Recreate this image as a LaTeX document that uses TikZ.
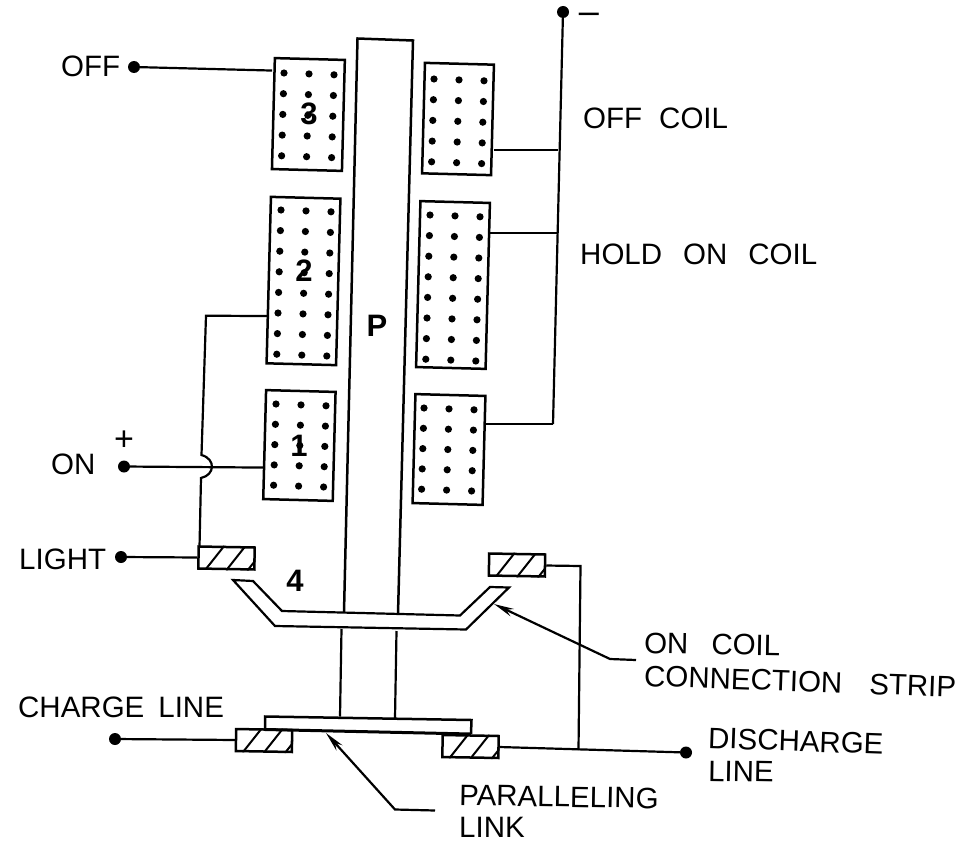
\documentclass[tikz,border=0pt]{standalone}
\usepackage{fontspec}
\setmainfont{Liberation Sans}
\usetikzlibrary{arrows.meta,calc}
\tikzset{
  wire/.style={draw=black,line width=2.2pt},
  coil/.style={draw=black,line width=2.5pt,fill=white,rectangle,inner sep=0pt,rotate=-1.5},
  contact/.style={draw=black,line width=2.5pt,rectangle,inner sep=0pt,minimum width=56pt,minimum height=22pt,rotate=-1},
  term/.style={circle,fill=black,inner sep=0pt,minimum size=12pt},
  lbl/.style={inner sep=0pt,anchor=west,font=\fontsize{29.5}{32}\selectfont},
  num/.style={inner sep=0pt,font=\fontsize{31}{33}\selectfont\bfseries},
  lead/.style={wire,-{Stealth[length=20pt,width=8pt]}}
}
\newcommand{\dotgrid}[4]{%
  \foreach \r in {1,...,#3}{\foreach \c in {0,1,2}{
    \fill (#1+25*\c-0.6*\r+0.6,#2+0.9*\c+#4*\r-#4) circle (3.6pt);}}}
\newcommand{\hatch}[1]{%
  \begin{scope}
    \clip (#1.north west)--(#1.north east)--(#1.south east)--(#1.south west)--cycle;
    \foreach \t in {0.14,0.50,0.86}{
      \draw[line width=2pt] ($(#1.south west)!\t!(#1.south east)$) -- ++(19,-24);}
  \end{scope}}
\begin{document}
\begin{tikzpicture}[x=1pt,y=-1pt]
\useasboundingbox (0,0) rectangle (971,843);
% plunger
\coordinate (pa) at (344,612); \coordinate (pb) at (357.5,38.5);
\coordinate (pc) at (413,40.5); \coordinate (pd) at (398,614);
\draw[line width=2.5pt,line join=miter] (pa)--(pb)--(pc)--(pd);
\coordinate (pe) at (341.5,629); \coordinate (pf) at (340,716.5);
\coordinate (pg) at (396.5,631); \coordinate (ph) at (395,718);
\draw[wire] (pe)--(pf) (pg)--(ph);
% coils
\node[coil,minimum width=70pt,minimum height=111pt] (c3) at (308.4,114.5) {};
\node[coil,minimum width=69.5pt,minimum height=166.5pt] (c2) at (303.5,281) {};
\node[coil,minimum width=69.5pt,minimum height=109pt] (c1) at (299.4,445.5) {};
\node[coil,minimum width=69pt,minimum height=110.5pt] (r3) at (458,119) {};
\node[coil,minimum width=69.5pt,minimum height=166pt] (r2) at (453,285) {};
\node[coil,minimum width=70pt,minimum height=109pt] (r1) at (449,449.5) {};
\dotgrid{284}{73}{5}{20.7}
\dotgrid{281}{210}{8}{20.6}
\dotgrid{276}{404}{5}{20.3}
\dotgrid{434}{79}{5}{20.7}
\dotgrid{430}{215}{8}{20.6}
\dotgrid{424}{408}{5}{20.3}
% numbers
\node[num] (n3) at (309,114) {3};
\node[num] (n2) at (304,271) {2};
\node[num] (n1) at (299,446) {1};
\node[num] (n4) at (295,581) {4};
\node[num] (np) at (377,326) {P};
% terminals
\node[term] (toff) at (134,67) {};
\node[term] (ton) at (124,466.5) {};
\node[term] (tlight) at (121,557) {};
\node[term] (tcharge) at (115,739) {};
\node[term] (tdis) at (686,752.5) {};
\node[term] (tneg) at (563,12) {};
% contacts
\node[contact] (kl) at (226.5,558) {}; \hatch{kl}
\node[contact] (kr) at (517,565) {}; \hatch{kr}
\node[contact] (kcl) at (264,740.5) {}; \hatch{kcl}
\node[contact] (kcr) at (470.5,746.5) {}; \hatch{kcr}
% link
\coordinate (la) at (265,729.5); \coordinate (lb) at (265,716.5);
\coordinate (lc) at (471.5,720); \coordinate (ld) at (471,734);
\draw[line width=2.5pt] (la)--(lb)--(lc)--(ld);
\draw[line width=3pt] (la)--(ld);
% strip 4
\coordinate (s1) at (233,580); \coordinate (s2) at (253,581);
\coordinate (s3) at (282,611); \coordinate (s4) at (460,615.5);
\coordinate (s5) at (490,587); \coordinate (s6) at (509,587.5);
\coordinate (s7) at (466,629.5); \coordinate (s8) at (275,626);
\draw[wire,line join=miter] (s1)--(s2)--(s3)--(s4)--(s5)--(s6)--(s7)--(s8)--cycle;
% wires
\coordinate (w3) at ($(c3.west)+(0,-43)$);
\draw[wire] (toff)--(w3);
\coordinate (w2) at ($(c2.west)+(0,36)$); \coordinate (b1) at (206,315.7);
\coordinate (j1) at (201.5,455); \coordinate (j2) at (201,478); \coordinate (kt) at (199.5,547);
\draw[wire,line join=miter] (w2)--(b1)--(j1) .. controls (216,459) and (215,475) .. (j2)--(kt);
\coordinate (w1) at ($(c1.west)+(0,23)$);
\draw[wire] (ton)--(w1);
\draw[wire] (tlight)--(kl.west);
\draw[wire] (tcharge)--(kcl.west);
\coordinate (bot) at (553,424); \coordinate (m3) at (558,150); \coordinate (m2) at (557,233);
\draw[wire] (tneg)--(bot);
\draw[wire] (r3.east |- m3)--(m3);
\draw[wire] (r2.east |- m2)--(m2);
\draw[wire] (r1.east |- bot)--(bot);
\draw[wire] (kcr.east)--(tdis);
\coordinate (dj) at (578.5,750); \coordinate (dk) at (580.5,566);
\draw[wire,line join=miter] (kr.east)--(dk)--(dj);
% leaders
\coordinate (l1a) at (636,660); \coordinate (l1b) at (610,659); \coordinate (l1c) at (494,604);
\draw[lead] (l1a)--(l1b)--(l1c);
\coordinate (l2a) at (435,810.5); \coordinate (l2b) at (395,809.5); \coordinate (l2c) at (326,733);
\draw[lead] (l2a)--(l2b)--(l2c);
% labels
\node[lbl] (t1) at (61,66) {OFF};
\node[lbl] (t2) at (583,118) {OFF\hspace{17pt}COIL};
\node[lbl] (t3) at (580,254) {HOLD\hspace{21pt}ON\hspace{21pt}COIL};
\node[lbl] (t4) at (51,464) {ON};
\node[inner sep=0pt,font=\fontsize{34}{36}\selectfont] (t5) at (124,441) {+};
\node[inner sep=0pt,font=\fontsize{36}{38}\selectfont] (t6) at (589,18) {–};
\node[lbl] (t7) at (19,559) {LIGHT};
\node[lbl] (t8) at (18,707) {CHARGE\hspace{14pt}LINE};
\node[lbl,rotate=-2] (t9) at (708,738) {DISCHARGE};
\node[lbl,rotate=-1] (t10) at (708,771) {LINE};
\node[lbl,rotate=-1] (t11) at (644,643) {ON\hspace{23pt}COIL};
\node[lbl,rotate=-2] (t12) at (644,676) {CONNECTION\hspace{27pt}STRIP};
\node[lbl,rotate=-1] (t13) at (459,795) {PARALLELING};
\node[lbl] (t14) at (459,827) {LINK};
\end{tikzpicture}
\end{document}
